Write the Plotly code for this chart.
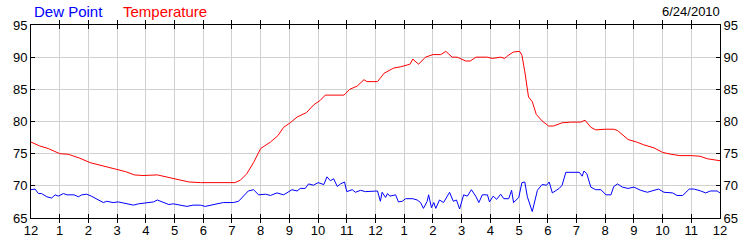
import plotly.graph_objects as go

# ---- data ----
temp_hours = [0, 0.3, 0.6, 1.0, 1.3, 1.7, 2.06, 2.4, 3.0, 3.3, 3.6, 3.9, 4.4, 4.6, 5.0, 5.5, 5.9, 6.6, 7.1, 7.3,
              7.52, 7.75, 8.0, 8.34, 8.6, 8.8, 9.03, 9.27, 9.6, 9.85, 10.08, 10.25, 10.5, 10.9, 10.95, 11.1, 11.36,
              11.6, 11.7, 12.07, 12.3, 12.63, 12.87, 13.2, 13.3, 13.5, 13.74, 14.0, 14.27, 14.45, 14.67, 14.85,
              15.14, 15.3, 15.5, 15.9, 16.07, 16.36, 16.5, 16.6, 16.8, 17.02, 17.1, 17.2, 17.33, 17.46, 17.6, 17.8,
              18.03, 18.2, 18.5, 18.8, 19.15, 19.3, 19.5, 19.67, 20.0, 20.3, 20.43, 20.6, 20.8, 21.1, 21.33, 21.7,
              22.0, 22.3, 22.6, 23.0, 23.3, 23.57, 23.8, 24.0]
temp_values = [76.8, 76.2, 75.8, 75.0, 74.9, 74.3, 73.6, 73.2, 72.5, 72.2, 71.7, 71.6, 71.7, 71.5, 71.0, 70.6, 70.5,
               70.5, 70.5, 70.9, 71.9, 73.6, 75.8, 76.8, 77.8, 79.1, 79.8, 80.7, 81.4, 82.6, 83.3, 84.1, 84.1, 84.1,
               84.3, 85.0, 85.5, 86.5, 86.2, 86.2, 87.5, 88.3, 88.5, 88.9, 89.7, 88.9, 90.0, 90.4, 90.4, 90.9, 90.0,
               90.0, 89.4, 89.4, 90.0, 90.0, 89.8, 90.0, 89.8, 90.2, 90.8, 90.9, 90.3, 87.8, 83.8, 83.1, 81.1, 80.1,
               79.3, 79.3, 79.8, 79.9, 79.9, 80.2, 79.1, 78.7, 78.8, 78.8, 78.6, 77.9, 77.2, 76.8, 76.4, 75.9, 75.2,
               74.9, 74.7, 74.7, 74.6, 74.2, 74.1, 73.9]

dew_hours = [0, 0.14, 0.26, 0.37, 0.55, 0.72, 0.84, 0.95, 1.13, 1.25, 1.5, 1.65, 1.77, 1.94, 2.1, 2.28, 2.52, 2.64,
             2.86, 3.04, 3.28, 3.57, 3.74, 4.03, 4.27, 4.4, 4.6, 4.8, 4.96, 5.2, 5.43, 5.65, 5.9, 6.07, 6.24, 6.48,
             6.7, 7.05, 7.23, 7.4, 7.57, 7.75, 7.93, 8.17, 8.34, 8.57, 8.8, 9.09, 9.27, 9.38, 9.55, 9.67, 9.84, 10.0,
             10.2, 10.31, 10.43, 10.54, 10.67, 10.78, 10.92, 11.0, 11.19, 11.3, 11.48, 11.65, 12.0, 12.07, 12.17,
             12.23, 12.35, 12.42, 12.5, 12.7, 12.8, 12.93, 13.05, 13.3, 13.45, 13.57, 13.67, 13.8, 13.85, 13.95,
             14.03, 14.1, 14.23, 14.37, 14.58, 14.71, 14.82, 14.93, 15.07, 15.2, 15.34, 15.49, 15.6, 15.72, 15.9,
             15.97, 16.1, 16.22, 16.36, 16.47, 16.64, 16.74, 16.81, 16.99, 17.1, 17.2, 17.29, 17.46, 17.64, 17.8,
             17.96, 18.05, 18.16, 18.4, 18.5, 18.63, 19.1, 19.2, 19.26, 19.36, 19.5, 19.67, 19.85, 20.03, 20.2,
             20.3, 20.43, 20.6, 20.8, 21.0, 21.24, 21.47, 21.7, 21.86, 22.05, 22.35, 22.5, 22.7, 22.93, 23.1,
             23.33, 23.5, 23.67, 23.9, 24.0]
dew_values = [69.4, 69.5, 68.8, 68.8, 68.3, 68.1, 68.6, 68.4, 68.8, 68.6, 68.6, 68.3, 68.6, 68.7, 68.4, 68.0, 67.4,
              67.6, 67.4, 67.5, 67.3, 67.0, 67.2, 67.4, 67.5, 67.8, 67.4, 67.1, 67.2, 67.0, 66.8, 67.0, 67.0, 66.8,
              67.0, 67.2, 67.4, 67.4, 67.6, 68.4, 69.2, 69.4, 68.6, 68.7, 68.5, 68.9, 68.6, 69.4, 69.2, 69.6, 69.6,
              70.3, 70.1, 70.5, 70.2, 71.4, 70.8, 71.1, 69.9, 70.3, 70.6, 69.1, 69.4, 69.0, 69.3, 69.1, 69.1, 69.2,
              67.6, 69.0, 68.2, 68.8, 68.4, 68.6, 67.5, 67.6, 68.0, 68.0, 67.8, 67.4, 66.5, 67.6, 68.6, 66.6, 67.4,
              66.5, 67.8, 67.4, 69.0, 67.6, 67.8, 66.4, 68.6, 68.4, 69.4, 68.4, 67.4, 68.6, 68.6, 67.5, 68.4, 67.9,
              68.7, 68.0, 68.0, 69.3, 67.4, 68.2, 70.5, 70.6, 68.3, 66.0, 69.3, 70.2, 70.1, 70.6, 68.9, 69.6, 70.1,
              72.1, 72.1, 71.5, 72.3, 71.9, 69.8, 69.4, 69.4, 68.6, 68.6, 69.9, 70.3, 69.8, 69.6, 69.8, 69.3, 69.0,
              69.3, 69.5, 69.0, 68.9, 68.5, 68.5, 69.5, 69.5, 69.2, 68.9, 69.2, 69.2, 68.9]

hour_ticks = list(range(0, 25))
hour_labels = ["12", "1", "2", "3", "4", "5", "6", "7", "8", "9", "10", "11",
               "12", "1", "2", "3", "4", "5", "6", "7", "8", "9", "10", "11", "12"]
y_ticks = [65, 70, 75, 80, 85, 90, 95]
date_label = "6/24/2010"

FONT = "Liberation Sans, Arial, sans-serif"

fig = go.Figure()
fig.add_trace(go.Scatter(x=dew_hours, y=dew_values, mode="lines",
                         line=dict(color="#0000ff", width=1), name="Dew Point", yaxis="y2"))
fig.add_trace(go.Scatter(x=temp_hours, y=temp_values, mode="lines",
                         line=dict(color="#ff0000", width=1), name="Temperature"))

axis_common = dict(showline=True, linecolor="black", linewidth=1, ticks="inside", ticklen=4,
                   tickcolor="black", tickfont=dict(family=FONT, size=13, color="black"), zeroline=False)

fig.update_layout(
    width=750, height=250,
    margin=dict(l=31, r=30, t=25, b=24),
    paper_bgcolor="white", plot_bgcolor="white",
    showlegend=False,
    xaxis=dict(range=[0, 24], tickvals=hour_ticks, ticktext=hour_labels, mirror="allticks",
               showgrid=True, gridcolor="#d0d0d0", gridwidth=1, **axis_common),
    yaxis=dict(range=[65, 95], tickvals=y_ticks, mirror="allticks",
               showgrid=True, gridcolor="#d0d0d0", gridwidth=1, **axis_common),
    yaxis2=dict(range=[65, 95], tickvals=y_ticks, overlaying="y", side="right",
                showgrid=False, **axis_common),
    annotations=[
        dict(text="Dew Point", x=0.0, xref="paper", xanchor="left", xshift=1,
             y=1, yref="paper", yanchor="bottom", yshift=3, showarrow=False,
             font=dict(family=FONT, size=15, color="#0000ff")),
        dict(text="Temperature", x=0.0, xref="paper", xanchor="left", xshift=90,
             y=1, yref="paper", yanchor="bottom", yshift=3, showarrow=False,
             font=dict(family=FONT, size=15, color="#ff0000")),
        dict(text=date_label, x=1, xref="paper", xanchor="right", xshift=2,
             y=1, yref="paper", yanchor="bottom", yshift=4, showarrow=False,
             font=dict(family=FONT, size=13, color="black")),
    ],
)

fig.write_html("out.html")
